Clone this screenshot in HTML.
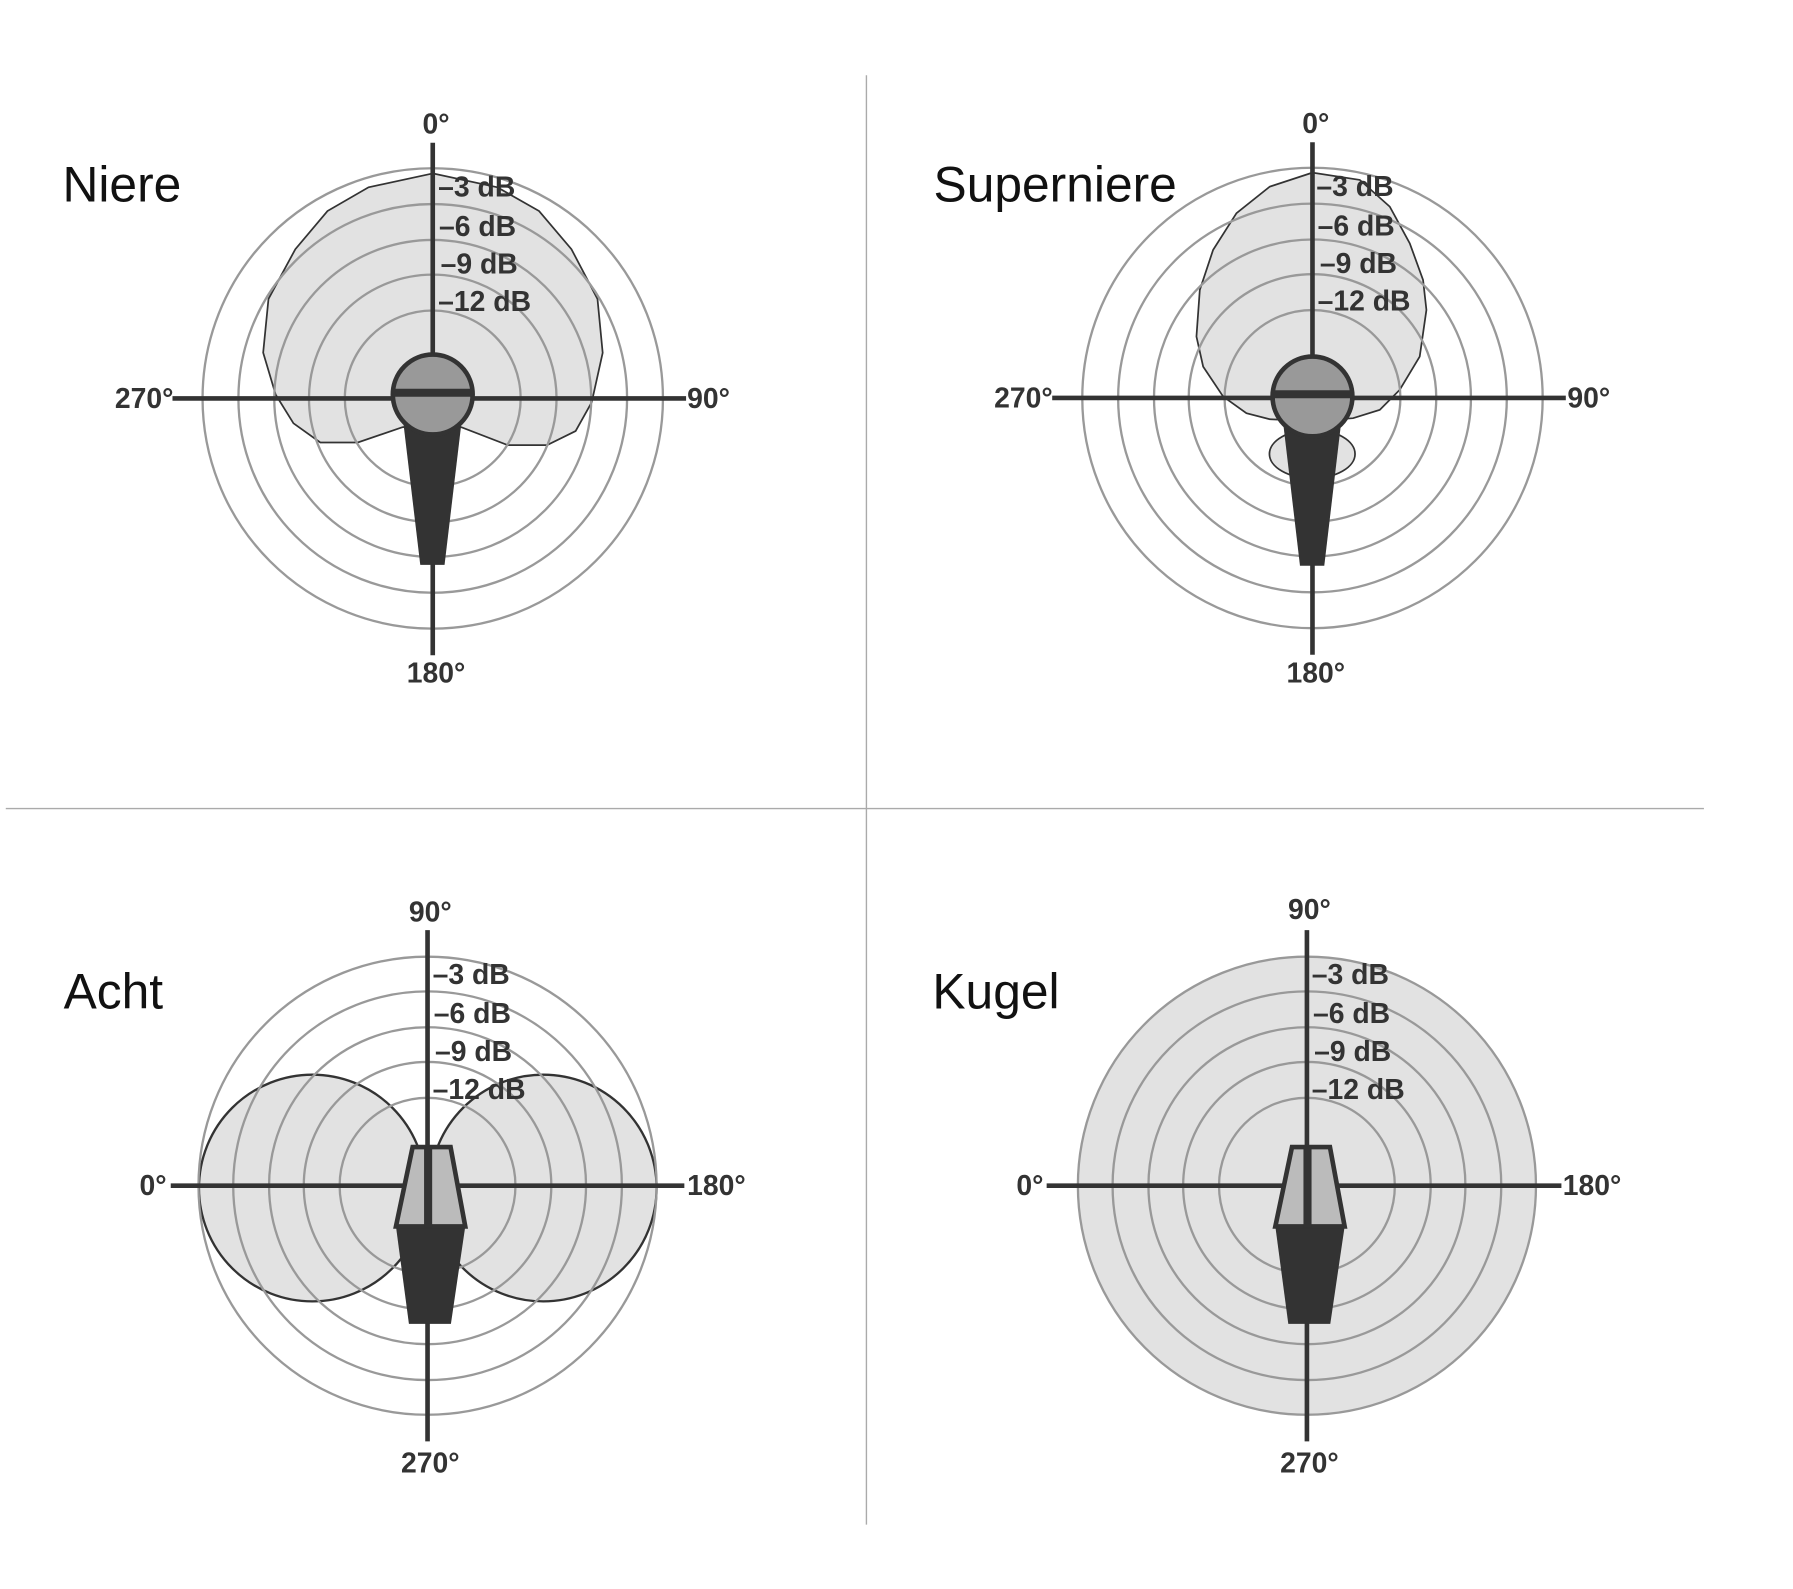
<!DOCTYPE html>
<html><head><meta charset="utf-8"><style>
html,body{margin:0;padding:0;background:#fff;}
svg{display:block;}
.t{font-family:"Liberation Sans",sans-serif;font-size:43px;fill:#111;}
.l{font-family:"Liberation Sans",sans-serif;font-weight:bold;font-size:24.5px;fill:#333;}
.r{fill:none;stroke:#999;stroke-width:2;}
.ax{stroke:#333;stroke-width:4;}
</style></head><body>
<svg width="1793" height="1589" viewBox="0 0 1550 1373.6" xmlns="http://www.w3.org/2000/svg">
<rect width="1550" height="1373.6" fill="#fff"/>
<line x1="749" y1="65" x2="749" y2="1318" stroke="#aaa" stroke-width="1.2"/>
<line x1="5" y1="699" x2="1473" y2="699" stroke="#aaa" stroke-width="1.2"/>

<!-- Niere -->
<text class="t" x="54" y="174">Niere</text>
<polygon points="374.1,149.9 318.6,161.9 283.1,182.4 255.3,215.4 232.1,258.4 227.5,304.8 238.3,341.1 253.7,365.9 276.9,382.5 309.3,382.5 347.9,369.3 374,366 398.8,369.3 439,384.8 472.9,384.8 497.6,372.6 511.5,347.8 521,305 516.5,258.4 494,215.4 466,182.4 430,161.9" fill="#e2e2e2" stroke="#333" stroke-width="1.5"/>
<g transform="translate(374.1,344.4)">
<circle class="r" r="76"/><circle class="r" r="107"/><circle class="r" r="137"/><circle class="r" r="168"/><circle class="r" r="199"/>
<line class="ax" x1="0" y1="-221" x2="0" y2="222"/>
<line class="ax" x1="-225" y1="0" x2="219" y2="0"/>
<polygon points="-25.3,22 24.7,22 10.2,143.9 -10.8,143.9" fill="#333"/>
<circle cx="0" cy="-3.4" r="34.5" fill="#999" stroke="#333" stroke-width="4"/>
<line x1="-35" y1="-4.9" x2="35" y2="-4.9" stroke="#333" stroke-width="7"/>
</g>
<text class="l" x="377" y="115.5" text-anchor="middle">0°</text>
<text class="l" x="377" y="590" text-anchor="middle">180°</text>
<text class="l" x="150" y="352.7" text-anchor="end">270°</text>
<text class="l" x="594" y="352.7">90°</text>
<text class="l" x="378.8" y="169.8">–3 dB</text>
<text class="l" x="379.5" y="203.9">–6 dB</text>
<text class="l" x="380.9" y="236.3">–9 dB</text>
<text class="l" x="378.8" y="269">–12 dB</text>

<!-- Superniere -->
<text class="t" x="807" y="174">Superniere</text>
<ellipse cx="1134.4" cy="392.4" rx="37" ry="21" fill="#e2e2e2" stroke="#333" stroke-width="1.5"/>
<polygon points="1134.6,149.2 1097.7,161.3 1068.9,184.3 1048.7,216 1037.2,250.6 1034.3,290.9 1040.1,316.9 1057.4,342.8 1077.5,357.2 1097.7,362.4 1134.6,364 1169.7,361.5 1192.8,354.3 1210,337 1227.3,308.2 1233.1,267.9 1230.2,242 1218.7,210.3 1201.4,178.6 1175.5,155.5" fill="#e2e2e2" stroke="#333" stroke-width="1.5"/>
<g transform="translate(1134.6,344)">
<circle class="r" r="76"/><circle class="r" r="107"/><circle class="r" r="137"/><circle class="r" r="168"/><circle class="r" r="199"/>
<line class="ax" x1="0" y1="-221" x2="0" y2="222"/>
<line class="ax" x1="-225" y1="0" x2="219" y2="0"/>
<polygon points="-25.3,22 24.7,22 10.2,145 -10.8,145" fill="#333"/>
<circle cx="0" cy="-1.3" r="34.5" fill="#999" stroke="#333" stroke-width="4"/>
<line x1="-35" y1="-3.2" x2="35" y2="-3.2" stroke="#333" stroke-width="7"/>
</g>
<text class="l" x="1137.5" y="115" text-anchor="middle">0°</text>
<text class="l" x="1137.5" y="590" text-anchor="middle">180°</text>
<text class="l" x="910" y="352.3" text-anchor="end">270°</text>
<text class="l" x="1355" y="352.3">90°</text>
<text class="l" x="1138" y="169.4">–3 dB</text>
<text class="l" x="1139" y="203.5">–6 dB</text>
<text class="l" x="1141" y="235.9">–9 dB</text>
<text class="l" x="1139" y="268.6">–12 dB</text>

<!-- Acht -->
<text class="t" x="55" y="872">Acht</text>
<circle cx="270" cy="1027" r="98" fill="#e2e2e2" stroke="#333" stroke-width="2"/>
<circle cx="469.6" cy="1027" r="98" fill="#e2e2e2" stroke="#333" stroke-width="2"/>
<g transform="translate(369.6,1025)">
<circle class="r" r="76"/><circle class="r" r="107"/><circle class="r" r="137"/><circle class="r" r="168"/><circle class="r" r="198"/>
<line class="ax" x1="0" y1="-221" x2="0" y2="221"/>
<line class="ax" x1="-222" y1="0" x2="222" y2="0"/>
<polygon points="-27.3,35.2 32.6,35.2 20.2,119.4 -16.1,119.4" fill="#333"/>
<polygon points="-12.9,-33.4 19.9,-33.4 32.6,35.2 -27.3,35.2" fill="#bbb" stroke="#333" stroke-width="4" stroke-linejoin="miter"/>
<rect x="-3" y="-34" width="7" height="70" fill="#333"/>
</g>
<text class="l" x="372" y="796.6" text-anchor="middle">90°</text>
<text class="l" x="372" y="1273" text-anchor="middle">270°</text>
<text class="l" x="144" y="1033" text-anchor="end">0°</text>
<text class="l" x="594" y="1033">180°</text>
<text class="l" x="374" y="850.8">–3 dB</text>
<text class="l" x="375" y="884.4">–6 dB</text>
<text class="l" x="376" y="917">–9 dB</text>
<text class="l" x="374" y="950">–12 dB</text>

<!-- Kugel -->
<text class="t" x="806" y="872">Kugel</text>
<g transform="translate(1129.8,1025)">
<circle r="198" fill="#e2e2e2" stroke="#999" stroke-width="2"/>
<circle class="r" r="76"/><circle class="r" r="107"/><circle class="r" r="137"/><circle class="r" r="168"/>
<line class="ax" x1="0" y1="-221" x2="0" y2="221"/>
<line class="ax" x1="-225" y1="0" x2="220" y2="0"/>
<polygon points="-27.3,35.2 32.6,35.2 20.2,119.4 -16.1,119.4" fill="#333"/>
<polygon points="-12.9,-33.4 19.9,-33.4 32.6,35.2 -27.3,35.2" fill="#bbb" stroke="#333" stroke-width="4"/>
<rect x="-3" y="-34" width="7" height="70" fill="#333"/>
</g>
<text class="l" x="1132" y="794.5" text-anchor="middle">90°</text>
<text class="l" x="1132" y="1273" text-anchor="middle">270°</text>
<text class="l" x="902" y="1033" text-anchor="end">0°</text>
<text class="l" x="1351" y="1033">180°</text>
<text class="l" x="1134" y="850.8">–3 dB</text>
<text class="l" x="1135" y="884.4">–6 dB</text>
<text class="l" x="1136" y="917">–9 dB</text>
<text class="l" x="1134" y="950">–12 dB</text>
</svg>
</body></html>
